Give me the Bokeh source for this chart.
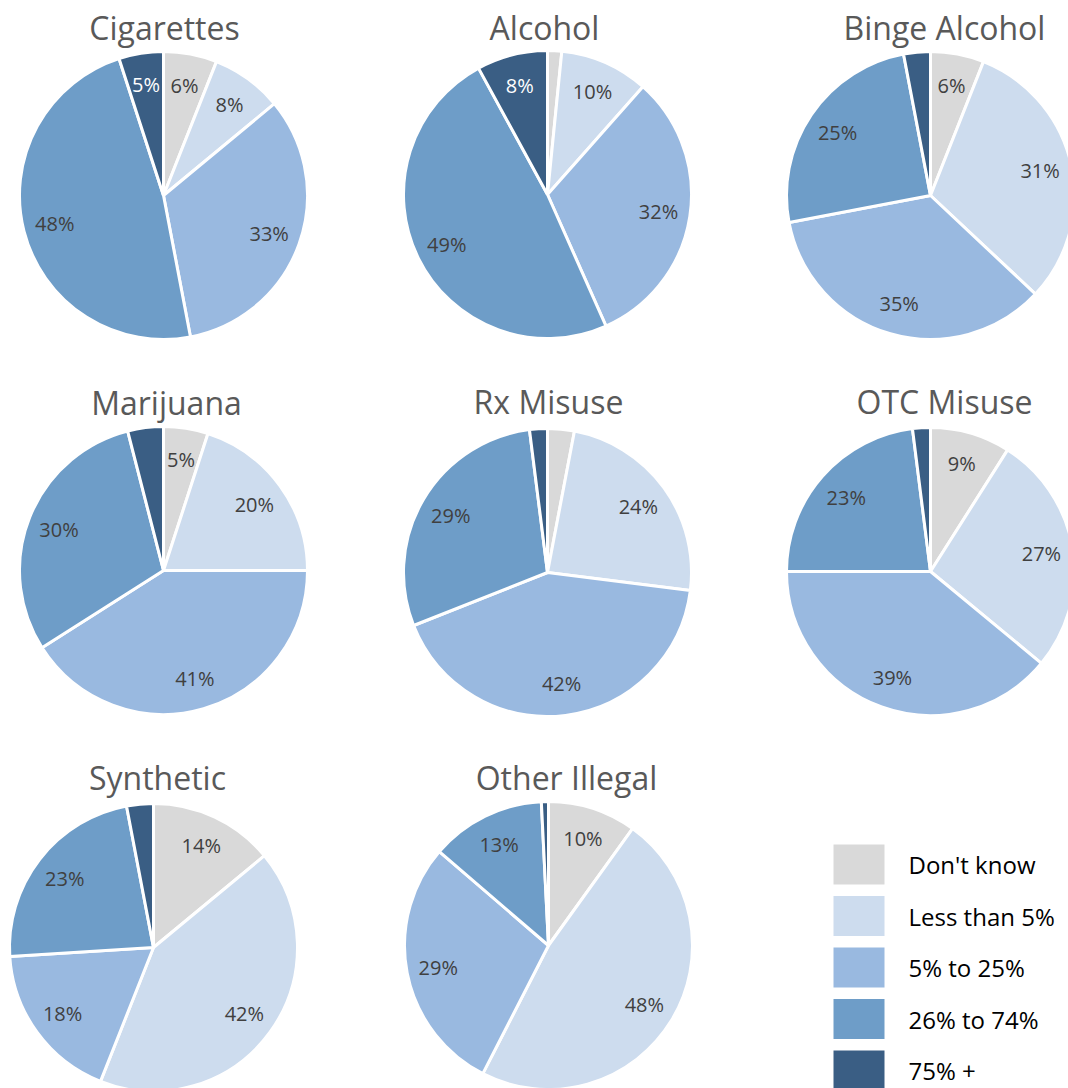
import numpy as np
from bokeh.plotting import figure
from bokeh.models import Range1d, ColumnDataSource
from bokeh.core.properties import value
from bokeh.embed import file_html
from bokeh.resources import INLINE

# ---------------- data ----------------
categories = ["Don't know", "Less than 5%", "5% to 25%", "26% to 74%", "75% +"]
colors = ["#D9D9D9", "#CDDCEE", "#99B9E0", "#6E9DC8", "#3A5E84"]
label_colors = ["#404040", "#404040", "#404040", "#404040", "#FFFFFF"]

titles = ["Cigarettes", "Alcohol", "Binge Alcohol", "Marijuana",
          "Rx Misuse", "OTC Misuse", "Synthetic", "Other Illegal"]

cigarettes = [6, 8, 33, 48, 5]
alcohol = [1.6, 10, 32, 49, 8]
binge_alcohol = [6, 31, 35, 25, 3]
marijuana = [5, 20, 41, 30, 4]
rx_misuse = [3, 24, 42, 29, 2]
otc_misuse = [9, 27, 39, 23, 2]
synthetic = [14, 42, 18, 23, 3]
other_illegal = [10, 48, 29, 13, 0.8]

series = [cigarettes, alcohol, binge_alcohol, marijuana,
          rx_misuse, otc_misuse, synthetic, other_illegal]

# ---------------- layout (screen pixels) ----------------
W, H = 1068, 1088
LEFT, TOP = 0, 0
R = 144
pie_centers = [(163, 195), (547, 194), (930, 195),
               (163, 570), (547, 572), (930, 571),
               (153, 947), (548, 945)]
title_pos = [(164, 27), (544, 27), (944, 27),
             (166, 402), (548, 401), (944, 401),
             (157, 777), (566, 777)]


def Y(ys):
    return TOP + H - ys


p = figure(width=W, height=H, x_range=Range1d(LEFT, LEFT + W), y_range=Range1d(0, H),
           output_backend="svg", toolbar_location=None,
           x_axis_type=None, y_axis_type=None, min_border=0)
p.outline_line_color = None
p.grid.visible = False
p.background_fill_color = "white"
p.border_fill_color = "white"

FONT = "Open Sans"

for title, vals, (cx, cy), (tx, ty) in zip(titles, series, pie_centers, title_pos):
    v = np.array(vals, dtype=float)
    frac = v / v.sum()
    c1 = np.cumsum(frac)
    c0 = c1 - frac
    start = np.pi / 2 - 2 * np.pi * c1
    end = np.pi / 2 - 2 * np.pi * c0
    cyd = Y(cy)
    src = ColumnDataSource(dict(
        x=[cx] * len(v), y=[cyd] * len(v), start=start, end=end,
        color=colors, cat=categories))
    p.wedge(x="x", y="y", radius=R, start_angle="start", end_angle="end",
            fill_color="color", line_color="white", line_width=3, source=src)

    mid = (c0 + c1) / 2
    ang = np.pi / 2 - 2 * np.pi * mid
    lx, ly, lt, lc = [], [], [], []
    for i in range(len(v)):
        if v[i] >= 5:
            lx.append(cx + 0.78 * R * np.cos(ang[i]))
            ly.append(cyd + 0.78 * R * np.sin(ang[i]))
            lt.append(f"{v[i]:.0f}%")
            lc.append(label_colors[i])
    p.text(x=lx, y=ly, text=lt, text_color=lc, text_font=value(FONT),
           text_font_size="20px", text_align="center", text_baseline="middle")

    p.text(x=[tx], y=[Y(ty)], text=[title], text_color="#595959",
           text_font=value(FONT), text_font_size="32px",
           text_align="center", text_baseline="middle")

# ---------------- legend ----------------
leg_x, leg_y0, leg_step = 858.5, 864, 51.5
ly_leg = [Y(leg_y0 + leg_step * i) for i in range(len(categories))]
p.rect(x=[leg_x] * len(categories), y=ly_leg, width=51, height=40,
       fill_color=colors, line_color=None)
p.text(x=[908] * len(categories), y=ly_leg, text=categories, text_color="#000000",
       text_font=value(FONT), text_font_size="24px",
       text_align="left", text_baseline="middle")

open("out.html", "w").write(file_html(p, INLINE))
